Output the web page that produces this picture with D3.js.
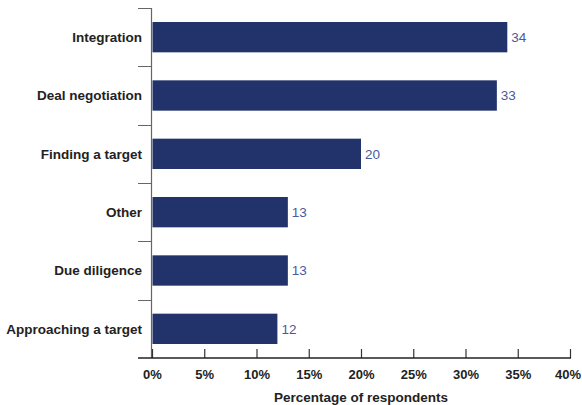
<!DOCTYPE html>
<html>
<head>
<meta charset="utf-8">
<script src="https://cdn.jsdelivr.net/npm/d3@7"></script>
<style>
  html, body { margin: 0; padding: 0; background: #fff; }
  svg { display: block; font-family: "Liberation Sans", Arial, Helvetica, sans-serif; }
</style>
</head>
<body>
<svg id="chart" width="582" height="405"></svg>
<script>
// Biggest challenges in the deal process
const categories = ["Integration", "Deal negotiation", "Finding a target", "Other", "Due diligence", "Approaching a target"];
const values = [34, 33, 20, 13, 13, 12];
const xTicks = [0, 5, 10, 15, 20, 25, 30, 35, 40];
const xTitle = "Percentage of respondents";

const svg = d3.select("#chart");
const plotLeft = 152, plotRight = 570, plotTop = 8, plotBottom = 358;

const x = d3.scaleLinear().domain([0, 40]).range([plotLeft, plotRight]);
const y = d3.scaleBand().domain(categories).range([plotTop, plotBottom])
  .paddingInner(0.48).paddingOuter(0.24);

// bars
svg.append("g").selectAll("rect").data(categories).join("rect")
  .attr("x", x(0) + 0.5)
  .attr("y", d => y(d))
  .attr("width", (d, i) => x(values[i]) - x(0) - 0.5)
  .attr("height", y.bandwidth())
  .attr("fill", "#22336b");

// value labels
svg.append("g").selectAll("text").data(categories).join("text")
  .attr("x", (d, i) => x(values[i]) + 4)
  .attr("y", d => y(d) + y.bandwidth() / 2)
  .attr("dy", "0.36em")
  .attr("font-size", 13.5)
  .attr("fill", "#4b5a98")
  .text((d, i) => values[i]);

// category labels
svg.append("g").selectAll("text").data(categories).join("text")
  .attr("x", 142)
  .attr("y", d => y(d) + y.bandwidth() / 2)
  .attr("dy", "0.36em")
  .attr("text-anchor", "end")
  .attr("font-size", 13.5)
  .attr("font-weight", "bold")
  .attr("fill", "#222")
  .text(d => d);

// category separators on the left of the vertical axis
const step = y.step();
const seps = d3.range(categories.length).map(i => plotTop + i * step);
svg.append("g").selectAll("line").data(seps).join("line")
  .attr("x1", 138).attr("x2", plotLeft)
  .attr("y1", d => Math.round(d) + 0.5).attr("y2", d => Math.round(d) + 0.5)
  .attr("stroke", "#666").attr("stroke-width", 1);

// vertical axis line
svg.append("line")
  .attr("x1", plotLeft - 0.5).attr("x2", plotLeft - 0.5)
  .attr("y1", plotTop).attr("y2", plotBottom)
  .attr("stroke", "#666").attr("stroke-width", 1.2);

// horizontal axis
const xAxis = d3.axisBottom(x).tickValues(xTicks).tickSize(-9).tickPadding(12)
  .tickFormat(d => d + "%");
const gx = svg.append("g").attr("transform", `translate(0,${plotBottom})`).call(xAxis);
gx.select(".domain").remove();
gx.selectAll(".tick line").attr("stroke", "#333").attr("stroke-width", 1.2);
gx.selectAll(".tick text")
  .attr("font-size", 13).attr("font-weight", "bold").attr("fill", "#222")
  .attr("font-family", "Liberation Sans, Arial, sans-serif");
// keep the last label inside the right edge
gx.selectAll(".tick text").filter(d => d === 40).attr("dx", -2.5);
svg.append("line")
  .attr("x1", 138).attr("x2", plotRight + 1)
  .attr("y1", plotBottom).attr("y2", plotBottom)
  .attr("stroke", "#222").attr("stroke-width", 1.3);

// axis title
svg.append("text")
  .attr("x", (plotLeft + plotRight) / 2)
  .attr("y", 401.5)
  .attr("text-anchor", "middle")
  .attr("font-size", 13.5)
  .attr("font-weight", "bold")
  .attr("fill", "#222")
  .text(xTitle);
</script>
</body>
</html>
